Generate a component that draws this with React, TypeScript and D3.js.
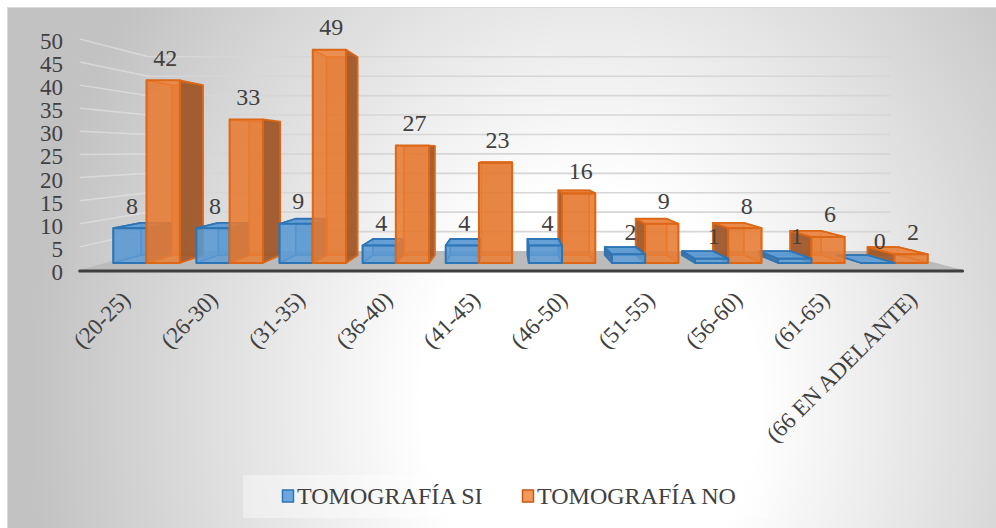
import React from "react";
import * as d3 from "d3";

const categories = ["(20-25)", "(26-30)", "(31-35)", "(36-40)", "(41-45)", "(46-50)", "(51-55)", "(56-60)", "(61-65)", "(66 EN ADELANTE)"];
const seriesNames = ["TOMOGRAFÍA SI", "TOMOGRAFÍA NO"];
const tomografiaSi = [8, 8, 9, 4, 4, 4, 2, 1, 1, 0];
const tomografiaNo = [42, 33, 49, 27, 23, 16, 9, 8, 6, 2];
const yTicks = [0, 5, 10, 15, 20, 25, 30, 35, 40, 45, 50];

const W = 996, H = 528;
const VX = 510, VY = 151;
const S_BACK = 0.93, S_WALL = 0.893, S_FLOOR = 1.0625, S_LABEL = 1.052;
const FONT = "'Liberation Serif', 'Times New Roman', Times, 'DejaVu Serif', 'Noto Serif', serif";
const TXT = "#404040";

const styles = [
  { front: "#5B9BD5", side: "#3B6FA6", top: "#5E9CD6", stroke: "#2E75B6", mFill: "#6CA6DC", mStroke: "#2E75B6" },
  { front: "#ED7D31", side: "#A0582A", top: "#EE8743", stroke: "#DC6716", mFill: "#F29A5C", mStroke: "#C55A11" },
];

const x = d3.scaleBand<string>().domain(categories).range([105, 936]).paddingInner(0.2).paddingOuter(0.1);
const xs = d3.scaleBand<number>().domain([0, 1]).range([0, x.bandwidth()]);
const y = d3.scaleLinear().domain([0, 50]).range([263, 45.5]);

function P(X: number, Y: number, s: number): [number, number] {
  return [VX + (X - VX) * s, VY + (Y - VY) * s];
}
const pts = (a: [number, number][]) => a.map((p) => p[0].toFixed(2) + "," + p[1].toFixed(2)).join(" ");

export default function App() {
  const series = [tomografiaSi, tomografiaNo];
  const bars: { X0: number; X1: number; v: number; si: number; c: number }[] = [];
  categories.forEach((c, ci) => {
    series.forEach((vals, si) => {
      const X0 = (x(c) as number) + (xs(si) as number);
      bars.push({ X0, X1: X0 + xs.bandwidth(), v: vals[ci], si, c: ci });
    });
  });
  const order = [...bars].sort((a, b) => Math.abs((b.X0 + b.X1) / 2 - VX) - Math.abs((a.X0 + a.X1) / 2 - VX));

  const X0f = 105, X1f = 936, Yb = y(0);
  const floor = [P(X0f, Yb, S_FLOOR), P(X1f, Yb, S_FLOOR), P(X1f, Yb, S_WALL), P(X0f, Yb, S_WALL)];

  return (
    <svg width={W} height={H} style={{ position: "absolute", left: 0, top: 0, fontFamily: FONT }}>
      <defs>
        <radialGradient id="bg" gradientUnits="userSpaceOnUse" cx={590} cy={400} r={560}
          gradientTransform="translate(590,400) scale(1,1.25) translate(-590,-400)">
          <stop offset="0" stopColor="#ffffff" />
          <stop offset="0.3" stopColor="#ffffff" />
          <stop offset="1" stopColor="#c2c2c2" />
        </radialGradient>
      </defs>
      <rect x={0} y={0} width={W} height={H} fill="#ffffff" />
      <rect x={7.5} y={7.5} width={W - 7} height={H - 7} fill="url(#bg)" stroke="#d9d9d9" strokeWidth={1} />

      {/* side wall gridlines */}
      {yTicks.filter((t) => t > 0).map((t) => {
        const a = P(X0f, y(t), S_FLOOR), b = P(X0f, y(t), S_WALL);
        return <line key={"sg" + t} x1={a[0]} y1={a[1]} x2={b[0]} y2={b[1]} stroke="#e9e9e9" strokeOpacity={0.55} strokeWidth={1.5} />;
      })}
      {/* back wall gridlines */}
      {yTicks.filter((t) => t > 0).map((t) => {
        const a = P(X0f, y(t), S_WALL), b = P(X1f, y(t), S_WALL);
        return <line key={"bg" + t} x1={a[0]} y1={a[1]} x2={b[0]} y2={b[1]} stroke="#d6d6d6" strokeWidth={1.6} />;
      })}

      <polygon points={pts(floor)} fill="#bbbbbb" />

      {order.map((b, i) => {
        const st = styles[b.si];
        const Yt = y(b.v);
        const back = [P(b.X0, Yt, S_BACK), P(b.X1, Yt, S_BACK), P(b.X1, Yb, S_BACK), P(b.X0, Yb, S_BACK)];
        const left = [P(b.X0, Yt, 1), P(b.X0, Yt, S_BACK), P(b.X0, Yb, S_BACK), P(b.X0, Yb, 1)];
        const right = [P(b.X1, Yt, 1), P(b.X1, Yt, S_BACK), P(b.X1, Yb, S_BACK), P(b.X1, Yb, 1)];
        const top = [P(b.X0, Yt, 1), P(b.X1, Yt, 1), P(b.X1, Yt, S_BACK), P(b.X0, Yt, S_BACK)];
        const front = [P(b.X0, Yt, 1), P(b.X1, Yt, 1), P(b.X1, Yb, 1), P(b.X0, Yb, 1)];
        const showRight = b.X1 < VX, showLeft = b.X0 > VX, showTop = Yt > VY;
        const hiddenSide = showRight ? left : right;
        return (
          <g key={"bar" + i} strokeLinejoin="round">
            <polygon points={pts(back)} fill={st.side} fillOpacity={0.5} stroke={st.stroke} strokeWidth={1.4} />
            <polygon points={pts(hiddenSide)} fill={st.side} fillOpacity={0.3} stroke={st.stroke} strokeWidth={1.4} />
            {showRight && <polygon points={pts(right)} fill={st.side} fillOpacity={0.9} stroke={st.stroke} strokeWidth={1.8} />}
            {showLeft && <polygon points={pts(left)} fill={st.side} fillOpacity={0.9} stroke={st.stroke} strokeWidth={1.8} />}
            {showTop && <polygon points={pts(top)} fill={st.top} fillOpacity={0.9} stroke={st.stroke} strokeWidth={1.8} />}
            <polygon points={pts(front)} fill={st.front} fillOpacity={0.82} stroke={st.stroke} strokeWidth={2} />
          </g>
        );
      })}

      {(() => {
        const a = P(X0f, Yb, S_FLOOR), b = P(X1f, Yb, S_FLOOR);
        return <line x1={a[0]} y1={a[1] + 1} x2={b[0]} y2={b[1] + 1} stroke="#3f3f3f" strokeWidth={3} strokeLinecap="round" />;
      })()}

      <g style={{ fontFamily: FONT }} fill={TXT}>
        {bars.map((b, i) => (
          <text key={"vl" + i} x={(b.X0 + b.X1) / 2 + 2} y={y(b.v) - 14.5} textAnchor="middle" fontSize={24}>
            {b.v}
          </text>
        ))}

        {yTicks.map((t) => {
          const p = P(X0f, y(t), S_FLOOR);
          return (
            <text key={"yl" + t} x={63} y={p[1] + 10} textAnchor="end" fontSize={23}>
              {t}
            </text>
          );
        })}

        {categories.map((c) => {
          const cx = (x(c) as number) + x.bandwidth() / 2;
          const p = P(cx, Yb, S_LABEL);
          const px = p[0] + 4, py = 301;
          return (
            <text key={"cl" + c} x={px} y={py} transform={`rotate(-45 ${px} ${py})`} textAnchor="end" fontSize={23}>
              {c}
            </text>
          );
        })}
      </g>

      <rect x={243} y={475} width={525} height={43} fill="#ffffff" fillOpacity={0.4} />
      {seriesNames.map((n, i) => {
        const lx = i === 0 ? 282 : 522;
        return (
          <g key={"lg" + i}>
            <rect x={lx + 0.5} y={490} width={11} height={12} fill={styles[i].mFill} stroke={styles[i].mStroke} strokeWidth={1.5} />
            <text x={lx + 15} y={503.5} fontSize={24} fill={TXT} style={{ fontFamily: FONT }}>{n}</text>
          </g>
        );
      })}
    </svg>
  );
}
